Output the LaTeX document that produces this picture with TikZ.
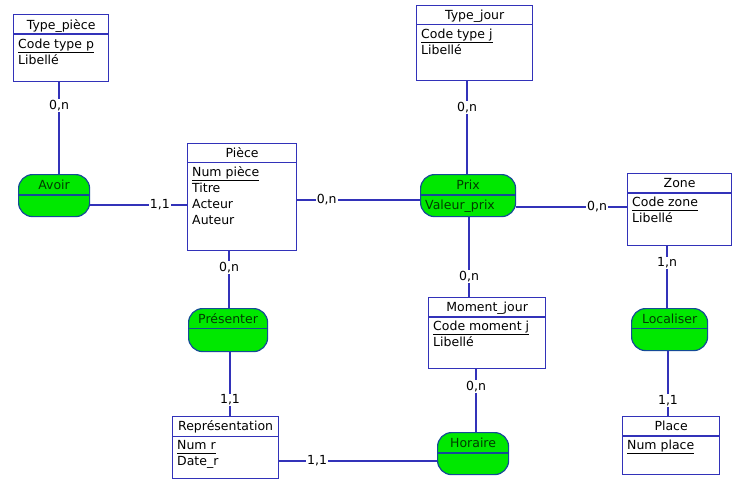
\documentclass[tikz,border=0pt]{standalone}
\usepackage{fontspec}
\setmainfont{DejaVu Sans}
\definecolor{linkblue}{RGB}{50,50,185}
\definecolor{assocedge}{RGB}{20,75,150}
\definecolor{assocgreen}{RGB}{0,232,0}
\definecolor{assoctext}{RGB}{0,60,0}
\newcommand{\ulx}[1]{\underline{#1\vphantom{p}}}
\newcommand{\fsz}{\fontsize{12.5}{14}\selectfont}
\tikzset{
  link/.style={draw=linkblue, line width=1.25pt},
  ent/.style={draw=linkblue, line width=1.25pt, fill=white, anchor=north west, inner sep=0pt},
  entline/.style={draw=linkblue, line width=1.25pt},
  assoc/.style={draw=assocedge, line width=1.2pt, fill=assocgreen, rounded corners=14pt, anchor=north west, inner sep=0pt},
  assocline/.style={draw=assocedge, line width=1.2pt},
  etitle/.style={anchor=base, inner sep=0pt, font=\fsz},
  attr/.style={anchor=base west, inner sep=0pt, font=\fsz},
  atitle/.style={anchor=base, inner sep=0pt, text=assoctext, font=\fsz},
  card/.style={fill=white, inner sep=1pt, font=\fsz}
}
\begin{document}
\begin{tikzpicture}[x=1pt,y=-1pt]
\useasboundingbox (0,0) rectangle (736,480);
\fill[white] (0,0) rectangle (736,480);

% ---------- Entities ----------
% Type_piece
\node[ent, minimum width=95pt, minimum height=67pt] (tp) at (13,14) {};
\draw[entline] ([yshift=-20pt]tp.north west) -- ([yshift=-20pt]tp.north east);
\node[etitle] (tpt) at ([yshift=-15pt]tp.north) {Type\_pièce};
\node[attr] (tpa1) at ([xshift=5pt,yshift=-34pt]tp.north west) {\ulx{Code type p}};
\node[attr] (tpa2) at ([xshift=5pt,yshift=-50pt]tp.north west) {Libellé};

% Type_jour
\node[ent, minimum width=116pt, minimum height=75pt] (tj) at (416,5) {};
\draw[entline] ([yshift=-19.5pt]tj.north west) -- ([yshift=-19.5pt]tj.north east);
\node[etitle] (tjt) at ([yshift=-14.5pt]tj.north) {Type\_jour};
\node[attr] (tja1) at ([xshift=5pt,yshift=-33.5pt]tj.north west) {\ulx{Code type j}};
\node[attr] (tja2) at ([xshift=5pt,yshift=-49.5pt]tj.north west) {Libellé};

% Piece
\node[ent, minimum width=109pt, minimum height=107pt] (pc) at (187,143) {};
\draw[entline] ([yshift=-19.5pt]pc.north west) -- ([yshift=-19.5pt]pc.north east);
\node[etitle] (pct) at ([yshift=-14.5pt]pc.north) {Pièce};
\node[attr] (pca1) at ([xshift=5pt,yshift=-33pt]pc.north west) {\ulx{Num pièce}};
\node[attr] (pca2) at ([xshift=5pt,yshift=-49pt]pc.north west) {Titre};
\node[attr] (pca3) at ([xshift=5pt,yshift=-65pt]pc.north west) {Acteur};
\node[attr] (pca4) at ([xshift=5pt,yshift=-81pt]pc.north west) {Auteur};

% Zone
\node[ent, minimum width=104pt, minimum height=72pt] (zn) at (627,173) {};
\draw[entline] ([yshift=-20pt]zn.north west) -- ([yshift=-20pt]zn.north east);
\node[etitle] (znt) at ([yshift=-14.5pt]zn.north) {Zone};
\node[attr] (zna1) at ([xshift=5pt,yshift=-33.5pt]zn.north west) {\ulx{Code zone}};
\node[attr] (zna2) at ([xshift=5pt,yshift=-49.5pt]zn.north west) {Libellé};

% Moment_jour
\node[ent, minimum width=117pt, minimum height=71pt] (mj) at (428,297) {};
\draw[entline] ([yshift=-20pt]mj.north west) -- ([yshift=-20pt]mj.north east);
\node[etitle] (mjt) at ([yshift=-14.5pt]mj.north) {Moment\_jour};
\node[attr] (mja1) at ([xshift=5pt,yshift=-33.5pt]mj.north west) {\ulx{Code moment j}};
\node[attr] (mja2) at ([xshift=5pt,yshift=-49.5pt]mj.north west) {Libellé};

% Place
\node[ent, minimum width=97pt, minimum height=58pt] (pl) at (622,416) {};
\draw[entline] ([yshift=-20pt]pl.north west) -- ([yshift=-20pt]pl.north east);
\node[etitle] (plt) at ([yshift=-14.5pt]pl.north) {Place};
\node[attr] (pla1) at ([xshift=5pt,yshift=-33.5pt]pl.north west) {\ulx{Num place}};

% Representation
\node[ent, minimum width=106pt, minimum height=62pt] (rp) at (172,416) {};
\draw[entline] ([yshift=-20.5pt]rp.north west) -- ([yshift=-20.5pt]rp.north east);
\node[etitle] (rpt) at ([yshift=-14.5pt]rp.north) {Représentation};
\node[attr] (rpa1) at ([xshift=5pt,yshift=-33.5pt]rp.north west) {\ulx{Num r}};
\node[attr] (rpa2) at ([xshift=5pt,yshift=-49.5pt]rp.north west) {Date\_r};

% ---------- Associations ----------
\node[assoc, minimum width=71pt, minimum height=42pt] (av) at (18,174) {};
\draw[assocline] ([yshift=-21pt]av.north west) -- ([yshift=-21pt]av.north east);
\node[atitle] (avt) at ([yshift=-15pt]av.north) {Avoir};

\node[assoc, minimum width=95pt, minimum height=42pt] (px) at (420,174) {};
\draw[assocline] ([yshift=-21pt]px.north west) -- ([yshift=-21pt]px.north east);
\node[atitle] (pxt) at ([yshift=-15pt]px.north) {Prix};
\node[attr, text=assoctext] (pxa) at ([xshift=5pt,yshift=-35.5pt]px.north west) {Valeur\_prix};

\node[assoc, minimum width=79pt, minimum height=43pt] (pr) at (188,308) {};
\draw[assocline] ([yshift=-20.5pt]pr.north west) -- ([yshift=-20.5pt]pr.north east);
\node[atitle] (prt) at ([yshift=-15pt]pr.north) {Présenter};

\node[assoc, minimum width=76pt, minimum height=42pt] (lo) at (631,308) {};
\draw[assocline] ([yshift=-20.5pt]lo.north west) -- ([yshift=-20.5pt]lo.north east);
\node[atitle] (lot) at ([yshift=-15pt]lo.north) {Localiser};

\node[assoc, minimum width=71pt, minimum height=42pt] (ho) at (437,432) {};
\draw[assocline] ([yshift=-21pt]ho.north west) -- ([yshift=-21pt]ho.north east);
\node[atitle] (hot) at ([yshift=-15pt]ho.north) {Horaire};

% ---------- Connectors ----------
\draw[link] (tp.south -| 59,0) -- node[card, pos=0.25] {0,n} (av.north -| 59,0);
\draw[link] (av.east |- 0,205) -- node[card, pos=0.72] {1,1} (pc.west |- 0,205);
\draw[link] (pc.east |- 0,200) -- node[card, pos=0.24] {0,n} (px.west |- 0,200);
\draw[link] (tj.south -| 467,0) -- node[card, pos=0.28] {0,n} (px.north -| 467,0);
\draw[link] (px.east |- 0,207) -- node[card, pos=0.73] {0,n} (zn.west |- 0,207);
\draw[link] (px.south -| 469,0) -- node[card, pos=0.74] {0,n} (mj.north -| 469,0);
\draw[link] (pc.south -| 229,0) -- node[card, pos=0.28] {0,n} (pr.north -| 229,0);
\draw[link] (pr.south -| 230,0) -- node[card, pos=0.75] {1,1} (rp.north -| 230,0);
\draw[link] (rp.east |- 0,461) -- node[card, pos=0.24] {1,1} (ho.west |- 0,461);
\draw[link] (mj.south -| 476,0) -- node[card, pos=0.28] {0,n} (ho.north -| 476,0);
\draw[link] (zn.south -| 667,0) -- node[card, pos=0.27] {1,n} (lo.north -| 667,0);
\draw[link] (lo.south -| 668,0) -- node[card, pos=0.76] {1,1} (pl.north -| 668,0);
\end{tikzpicture}
\end{document}
